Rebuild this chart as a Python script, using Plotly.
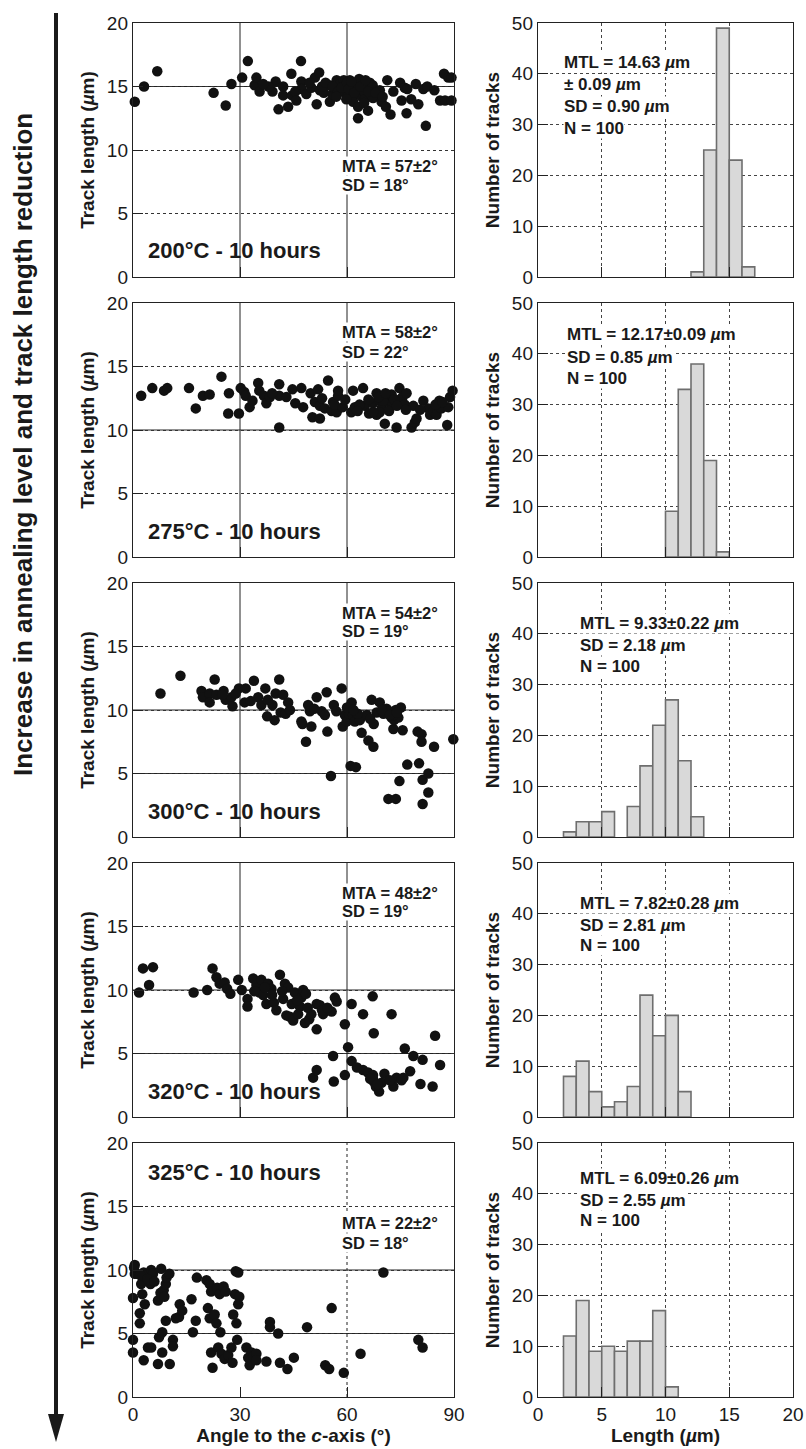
import plotly.graph_objects as go

W, H = 806, 1449

# ---------------- data ----------------
panel_labels = ["200°C - 10 hours", "275°C - 10 hours", "300°C - 10 hours",
                "320°C - 10 hours", "325°C - 10 hours"]
mta_lines = [["MTA = 57±2°", "SD = 18°"], ["MTA = 58±2°", "SD = 22°"],
             ["MTA = 54±2°", "SD = 19°"], ["MTA = 48±2°", "SD = 19°"],
             ["MTA = 22±2°", "SD = 18°"]]
mtl_lines = [["MTL = 14.63 <i>µ</i>m", "± 0.09 <i>µ</i>m", "SD = 0.90 <i>µ</i>m", "N = 100"],
             ["MTL = 12.17±0.09 <i>µ</i>m", "SD = 0.85 <i>µ</i>m", "N = 100"],
             ["MTL = 9.33±0.22 <i>µ</i>m", "SD = 2.18 <i>µ</i>m", "N = 100"],
             ["MTL = 7.82±0.28 <i>µ</i>m", "SD = 2.81 <i>µ</i>m", "N = 100"],
             ["MTL = 6.09±0.26 <i>µ</i>m", "SD = 2.55 <i>µ</i>m", "N = 100"]]

# (angle to c-axis [deg], track length [um])
pts_200 = [(0.5,13.8),(3.1,15.0),(6.8,16.2),(22.6,14.5),(26.0,13.5),(27.6,15.2),(30.6,15.7),(32.2,17.0),
           (34.1,15.1),(34.6,15.7),(35.5,14.6),(39.1,14.6),(40.0,15.4),(40.8,13.2),(42.1,15.0),(42.1,14.3),
           (43.5,13.4),(44.4,16.0),(44.6,14.3),(47.1,17.0),(47.2,15.4),(47.2,14.8),(48.6,14.4),(50.0,14.9),
           (51.0,15.7),(52.2,16.1),(51.5,13.6),(52.4,14.7),(53.5,14.5),(55.0,15.1),(55.2,13.8),(55.9,14.4),
           (56.6,14.8),(57.1,15.5),(58.0,15.2),(59.1,15.5),(59.4,14.5),(60.8,15.5),(61.7,14.2),(61.7,13.8),
           (62.2,15.2),(62.8,14.9),(63.1,13.4),(63.4,15.6),(64.1,14.2),(64.5,14.7),(65.0,14.0),(65.7,14.9),
           (65.9,13.1),(66.4,15.3),(66.9,14.2),(67.2,15.1),(63.1,12.5),(67.3,14.1),(69.2,14.7),(69.7,13.8),
           (70.9,13.4),(71.3,15.5),(72.2,12.8),(73.0,14.6),(74.9,15.3),(75.3,13.9),(76.2,14.9),(76.7,12.9),
           (76.9,14.8),(79.3,15.2),(80.0,13.6),(81.4,14.8),(82.1,11.9),(82.5,15.0),(86.1,13.9),(87.5,13.9),
           (89.3,13.9),(87.2,16.0),(88.4,15.7),(89.3,15.7),(53.0,15.0),(54.0,15.3),(56.0,15.0),(57.5,14.6),
           (58.5,14.9),(60.0,15.3),(60.5,14.8),(61.2,15.4),(62.0,14.5),(63.8,15.0),(65.2,15.5),(66.0,14.6),
           (68.0,14.5),(38.0,15.0),(36.5,15.2),(45.5,14.6),(49.5,15.3),(57.0,14.2),(64.8,13.7),(70.0,14.2),
           (59.8,14.0),(45.8,13.9),(78.0,14.0),(84.5,14.7)]
pts_275 = [(2.3,12.7),(5.4,13.3),(8.7,13.1),(9.6,13.3),(15.7,13.3),(17.6,11.7),(19.6,12.7),(21.5,12.8),
           (24.8,14.2),(26.9,12.9),(26.7,11.3),(29.7,11.3),(30.2,13.3),(31.2,13.0),(31.6,12.7),(32.7,11.8),
           (35.1,13.7),(35.4,13.1),(36.7,12.7),(37.4,12.1),(38.4,12.6),(41.0,13.6),(41.0,10.2),(41.0,12.7),
           (43.0,12.6),(44.7,13.2),(47.2,13.3),(47.7,11.8),(49.8,12.9),(50.3,11.0),(51.0,12.2),(51.9,13.2),
           (52.4,10.9),(52.4,11.9),(54.7,13.9),(53.8,11.7),(55.7,11.5),(56.1,12.2),(57.1,11.4),(57.5,12.7),
           (57.5,13.1),(61.7,13.1),(61.2,11.4),(62.2,11.8),(64.5,13.3),(65.0,11.9),(66.2,11.3),(67.3,12.1),
           (68.3,12.9),(68.3,11.2),(69.2,12.3),(69.7,11.7),(70.6,10.5),(71.1,12.6),(71.6,12.2),(72.5,12.8),
           (72.8,12.0),(73.9,10.2),(74.7,13.3),(74.8,12.4),(75.6,12.6),(76.2,12.0),(76.7,12.9),(78.1,10.2),
           (78.6,11.9),(79.0,10.6),(79.5,10.9),(81.4,12.3),(82.8,11.7),(83.3,11.2),(84.2,11.5),(85.1,11.2),
           (85.9,12.3),(86.5,11.7),(88.1,10.4),(88.4,11.8),(88.9,12.6),(89.6,13.1),(69.2,11.4),(70.1,12.3),
           (73.2,12.4),(67.3,11.4),(53.0,12.5),(56.5,12.0),(58.8,11.8),(63.5,12.0),(66.0,12.4),(68.8,12.6),
           (71.8,11.5),(74.0,11.9),(76.5,11.6),(80.5,11.6),(84.8,12.0),(86.8,12.2),(45.5,12.1),(39.0,12.9),
           (33.5,12.3),(63.0,11.5),(59.5,12.4),(70.8,12.9)]
pts_300 = [(7.7,11.3),(13.3,12.7),(19.2,11.5),(19.6,11.0),(21.5,11.3),(21.5,10.6),(22.9,12.4),(23.4,11.2),
           (25.4,11.5),(26.0,10.8),(27.6,11.0),(27.9,10.3),(29.7,11.7),(31.6,11.7),(31.3,10.6),(33.9,12.3),
           (35.1,11.0),(36.0,10.4),(37.1,11.7),(37.6,9.5),(39.1,10.4),(39.7,9.2),(40.0,11.3),(41.0,12.4),
           (41.4,9.8),(42.1,11.2),(42.8,9.7),(43.5,10.6),(47.2,9.1),(47.5,8.9),(48.5,7.5),(49.1,10.4),
           (49.6,9.9),(50.0,8.7),(51.5,11.0),(52.9,9.9),(54.3,11.4),(54.5,8.3),(55.5,4.8),(56.3,10.4),
           (58.5,11.7),(58.8,8.7),(59.4,9.6),(59.9,9.1),(60.6,9.7),(61.3,10.6),(61.7,9.6),(62.2,9.1),
           (61.0,5.6),(62.5,5.5),(63.6,9.2),(64.1,8.2),(65.5,9.6),(66.0,7.6),(66.9,10.8),(67.4,7.1),
           (67.5,8.9),(68.3,9.8),(69.2,10.6),(71.1,10.1),(71.8,9.9),(72.5,9.4),(73.0,8.5),(73.2,9.2),
           (73.7,10.0),(74.4,9.4),(75.1,10.2),(75.6,8.4),(71.6,3.0),(73.7,3.0),(74.7,4.4),(76.9,5.7),
           (79.8,8.3),(80.2,5.8),(80.9,8.1),(80.9,7.5),(81.2,4.5),(81.2,2.6),(82.8,5.0),(82.8,3.5),
           (84.4,7.1),(89.8,7.7),(73.0,9.6),(70.2,9.7),(25.0,11.2),(28.8,11.3),(33.0,10.7),(37.8,10.8),
           (44.0,10.0),(50.8,10.1),(57.0,9.9),(60.0,10.2),(63.0,9.7),(69.8,10.0),(72.0,9.6),(74.0,9.8),
           (66.5,9.3),(61.8,10.0),(53.8,9.6)]
pts_320 = [(1.7,9.8),(2.8,11.7),(4.5,10.4),(5.6,11.8),(17.0,9.8),(20.8,10.0),(22.3,11.7),(23.4,11.0),
           (24.3,10.5),(25.7,10.6),(26.4,10.1),(27.3,9.7),(29.5,10.8),(32.1,9.3),(32.1,8.7),(33.7,10.9),
           (34.6,10.4),(35.5,9.8),(36.0,10.8),(36.5,9.6),(37.4,8.9),(37.9,10.5),(38.8,10.1),(39.5,9.0),
           (40.2,8.4),(41.2,11.2),(42.1,9.3),(42.6,10.5),(43.0,8.0),(43.5,10.2),(44.0,7.9),(44.9,7.6),
           (45.4,9.8),(46.3,8.1),(46.8,8.7),(47.2,9.4),(47.7,10.0),(48.2,7.4),(48.5,9.7),(49.4,7.7),
           (50.0,8.1),(50.5,3.1),(51.5,3.7),(51.5,6.9),(51.5,8.9),(52.4,8.8),(53.3,8.1),(55.7,8.3),
           (56.1,4.8),(56.6,9.4),(57.1,9.1),(56.3,2.8),(59.4,7.3),(59.4,3.3),(60.3,5.5),(61.3,4.4),
           (61.3,8.9),(64.5,8.1),(64.5,3.7),(65.9,3.5),(67.2,9.5),(67.5,6.6),(67.3,3.3),(67.5,2.8),
           (68.1,2.4),(69.0,2.0),(69.7,2.7),(72.5,8.1),(73.0,2.4),(73.9,3.1),(75.3,2.9),(76.2,5.4),
           (77.7,3.6),(78.6,4.8),(80.6,2.6),(81.2,4.5),(84.0,2.4),(84.7,6.4),(86.1,4.1),(67.3,3.0),
           (30.5,10.0),(34.0,9.9),(37.0,10.2),(39.0,9.6),(41.8,9.9),(44.5,8.9),(46.0,9.2),(49.0,8.6),
           (53.0,8.4),(54.5,8.6),(66.5,3.0),(68.6,2.6),(70.5,3.4),(72.0,2.9),(75.8,3.1),(62.8,3.9)]
pts_325 = [(0.5,10.4),(0.0,7.8),(0.5,9.7),(1.1,9.7),(1.9,6.6),(1.9,5.8),(2.3,8.9),(2.6,8.1),
           (3.0,9.8),(3.3,7.3),(3.0,2.9),(0.0,4.5),(0.0,3.5),(4.2,3.9),(4.7,9.2),(5.1,10.0),
           (5.6,9.7),(4.9,8.9),(5.1,3.9),(7.0,2.6),(7.0,7.6),(7.3,4.7),(7.7,8.2),(7.9,10.1),
           (8.2,5.1),(8.2,3.5),(8.6,8.4),(9.2,8.9),(9.4,9.4),(10.2,9.7),(9.2,6.0),(10.3,2.6),
           (11.2,4.5),(11.2,4.0),(12.0,6.2),(12.9,6.3),(13.1,7.3),(13.8,6.8),(16.4,7.7),(16.8,5.1),
           (17.6,6.0),(17.9,9.4),(20.6,9.2),(21.0,7.0),(21.5,8.9),(21.5,6.2),(21.9,3.5),(22.3,2.3),
           (21.9,8.3),(22.9,6.5),(23.4,5.8),(23.6,8.6),(23.9,3.9),(24.3,8.1),(24.5,5.1),(24.8,3.4),
           (25.4,8.7),(25.7,3.0),(26.7,3.3),(27.6,3.9),(27.9,2.7),(28.1,6.5),(28.6,8.1),(28.8,9.9),
           (29.0,5.8),(29.2,4.5),(29.5,9.8),(29.8,7.9),(29.5,7.3),(31.8,3.9),(32.3,3.1),(32.7,2.5),
           (33.2,3.5),(33.7,3.2),(34.6,3.4),(34.6,2.9),(37.4,2.8),(38.4,5.9),(38.4,5.5),(40.7,5.0),
           (41.2,2.7),(43.3,2.2),(45.1,3.1),(48.8,5.5),(53.9,2.5),(55.7,7.0),(55.0,2.2),(59.1,1.9),
           (63.8,3.4),(70.2,9.8),(80.0,4.5),(81.2,3.9),(0.3,10.2),(2.0,9.6),(4.0,9.3),(6.0,9.1),
           (8.8,7.9),(26.0,8.3)]
scatter_sets = [pts_200, pts_275, pts_300, pts_320, pts_325]

# histograms: lower bin edge (um, bin width 1 um) and counts
bins_200 = [12, 13, 14, 15, 16];                    counts_200 = [1, 25, 49, 23, 2]
bins_275 = [10, 11, 12, 13, 14];                    counts_275 = [9, 33, 38, 19, 1]
bins_300 = [2, 3, 4, 5, 7, 8, 9, 10, 11, 12];       counts_300 = [1, 3, 3, 5, 6, 14, 22, 27, 15, 4]
bins_320 = [2, 3, 4, 5, 6, 7, 8, 9, 10, 11];        counts_320 = [8, 11, 5, 2, 3, 6, 24, 16, 20, 5]
bins_325 = [2, 3, 4, 5, 6, 7, 8, 9, 10];            counts_325 = [12, 19, 9, 10, 9, 11, 11, 17, 2]
hist_sets = [(bins_200, counts_200), (bins_275, counts_275), (bins_300, counts_300),
             (bins_320, counts_320), (bins_325, counts_325)]

angle_ticks = [0, 30, 60, 90]
length_tick_sc = [0, 5, 10, 15, 20]
len_ticks_h = [0, 5, 10, 15, 20]
count_ticks = [0, 10, 20, 30, 40, 50]

# ---------------- layout geometry (pixels) ----------------
SC_X = (133, 454)
HI_X = (538, 793)
TOPS = [23, 303, 583, 863, 1143]
PH = 254
FONT = "Liberation Sans, Arial, Helvetica, sans-serif"
TXT = "#1a1a1a"
TICKF = dict(family=FONT, size=19, color=TXT)
TITLEF = dict(family=FONT, size=19, color=TXT)

# text line centres (pixels, relative to panel top)
MTA_Y = [[143, 162], [29, 49], [30, 48], [30, 48], [80, 100]]
MTL_Y = [[40, 62, 84, 105], [32, 54, 75], [40, 62, 83], [40, 62, 83], [35, 57, 77]]
MTL_X = [563, 566, 579, 579, 579]


def px(x):
    return x / W


def py(y):
    return 1 - y / H


fig = go.Figure()
layout = dict(template="none", width=W, height=H, autosize=False,
              margin=dict(l=0, r=0, t=0, b=0, pad=0),
              paper_bgcolor="white", plot_bgcolor="white", showlegend=False)
shapes = []
annotations = []

for i in range(5):
    top = TOPS[i]
    ydom = [py(top + PH), py(top)]
    sx = 2 * i + 1
    hx = 2 * i + 2
    sxn = "xaxis" if sx == 1 else f"xaxis{sx}"
    syn = "yaxis" if sx == 1 else f"yaxis{sx}"
    hxn, hyn = f"xaxis{hx}", f"yaxis{hx}"
    sxr = "x" if sx == 1 else f"x{sx}"
    syr = "y" if sx == 1 else f"y{sx}"
    hxr, hyr = f"x{hx}", f"y{hx}"
    last = (i == 4)

    pts = scatter_sets[i]
    fig.add_trace(go.Scatter(x=[p[0] for p in pts], y=[p[1] for p in pts], mode="markers",
                             marker=dict(size=10.5, color="#111111", line=dict(width=0)),
                             xaxis=sxr, yaxis=syr, cliponaxis=False))
    b, c = hist_sets[i]
    fig.add_trace(go.Bar(x=[v + 0.5 for v in b], y=c, width=1,
                         marker=dict(color="#d9d9d9", line=dict(color="#6e6e6e", width=1.6)),
                         xaxis=hxr, yaxis=hyr))

    common = dict(showline=True, linecolor="#222", linewidth=1.2, mirror=True,
                  ticks="inside", ticklen=10, tickcolor="#222", tickwidth=1,
                  tickfont=TICKF, zeroline=False, fixedrange=True, automargin=False)

    layout[sxn] = dict(common, domain=[px(SC_X[0]), px(SC_X[1])], anchor=syr,
                       range=[0, 90], tickvals=angle_ticks, showticklabels=last,
                       showgrid=False)
    layout[syn] = dict(common, domain=ydom, anchor=sxr, range=[0, 20],
                       tickvals=length_tick_sc, showgrid=True, gridcolor="#333",
                       gridwidth=1, griddash="dot",
                       title=dict(text="<b>Track length (<i>µ</i>m)</b>", font=TITLEF, standoff=7))
    layout[hxn] = dict(common, domain=[px(HI_X[0]), px(HI_X[1])], anchor=hyr,
                       range=[0, 20], tickvals=len_ticks_h, showticklabels=last,
                       showgrid=True, gridcolor="#444", gridwidth=1, griddash="dot")
    layout[hyn] = dict(common, domain=ydom, anchor=hxr, range=[0, 50],
                       tickvals=count_ticks, showgrid=True, gridcolor="#444",
                       gridwidth=1, griddash="dot",
                       title=dict(text="<b>Number of tracks</b>", font=TITLEF, standoff=7))
    if last:
        layout[sxn]["title"] = dict(text="<b>Angle to the <i>c</i>-axis (°)</b>", font=TITLEF, standoff=4)
        layout[hxn]["title"] = dict(text="<b>Length (<i>µ</i>m)</b>", font=TITLEF, standoff=4)

    # vertical guide lines at the inner angle ticks
    for tv in angle_ticks[1:-1]:
        if last and tv == 30:
            continue
        shapes.append(dict(type="line", xref=sxr, yref=f"{syr} domain", x0=tv, x1=tv, y0=0, y1=1,
                           line=dict(color="#222", width=1, dash="dot" if last else "solid"),
                           layer="below"))
    # solid horizontal guide lines
    solid_levels = {0: [15], 1: [10], 2: [10, 5], 3: [10, 5], 4: [10, 5]}[i]
    for lv in solid_levels:
        shapes.append(dict(type="line", xref=f"{sxr} domain", yref=syr, x0=0, x1=1, y0=lv, y1=lv,
                           line=dict(color="#222", width=1), layer="below"))

    lab_y = top + (29 if last else 228)
    annotations.append(dict(xref="paper", yref="paper", x=px(146), y=py(lab_y), xanchor="left",
                            yanchor="middle", showarrow=False, text=f"<b>{panel_labels[i]}</b>",
                            font=dict(family=FONT, size=22, color=TXT)))
    for line, ly in zip(mta_lines[i], MTA_Y[i]):
        annotations.append(dict(xref="paper", yref="paper", x=px(341), y=py(top + ly), xanchor="left",
                                yanchor="middle", align="left", showarrow=False,
                                text=f"<b>{line}</b>", bgcolor="white", borderpad=0,
                                font=dict(family=FONT, size=16.5, color=TXT)))
    for line, ly in zip(mtl_lines[i], MTL_Y[i]):
        annotations.append(dict(xref="paper", yref="paper", x=px(MTL_X[i]), y=py(top + ly),
                                xanchor="left", yanchor="middle", align="left", showarrow=False,
                                text=f"<b>{line}</b>", bgcolor="white", borderpad=0,
                                font=dict(family=FONT, size=17, color=TXT)))

ARX = 56
shapes.append(dict(type="line", xref="paper", yref="paper", x0=px(ARX), x1=px(ARX),
                   y0=py(13), y1=py(1420), line=dict(color="#1a1a1a", width=4)))
shapes.append(dict(type="path", xref="paper", yref="paper",
                   path=f"M {px(ARX - 8)} {py(1414)} L {px(ARX + 8)} {py(1414)} L {px(ARX)} {py(1442)} Z",
                   fillcolor="#1a1a1a", line=dict(width=0)))
annotations.append(dict(xref="paper", yref="paper", x=px(23), y=py(445), showarrow=False,
                        textangle=-90, xanchor="center", yanchor="middle",
                        text="<b>Increase in annealing level and track length reduction</b>",
                        font=dict(family=FONT, size=26, color=TXT)))

layout["shapes"] = shapes
layout["annotations"] = annotations
layout["bargap"] = 0
fig.update_layout(**layout)
fig.write_html("out.html", config={"displayModeBar": False, "staticPlot": True},
               post_script="document.body.style.margin='0';")
